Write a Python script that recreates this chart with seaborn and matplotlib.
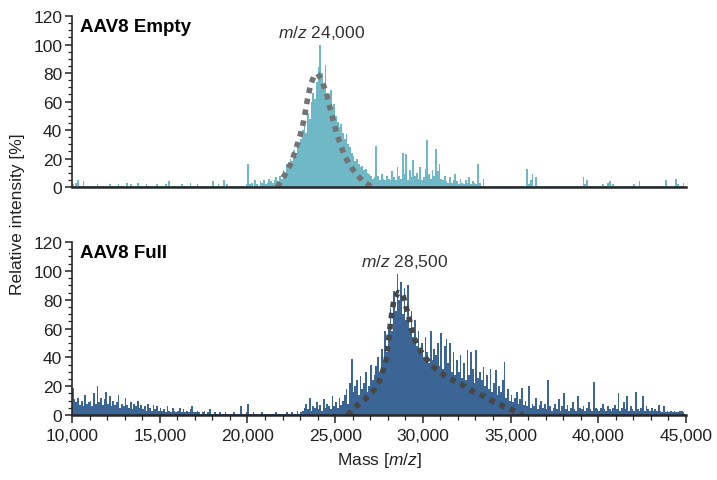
import numpy as np
import pandas as pd
import seaborn as sns
import matplotlib.pyplot as plt
from matplotlib.ticker import MultipleLocator, FuncFormatter

# spectra sampled every 100 Da, one row per 1000 Da, from 10,000 to 44,900
mass = np.arange(10000, 45000, 100)

empty_intensity = [
    2, 1, 3, 5, 1, 1, 4, 1, 1, 1,
    1, 1, 1, 1, 2, 1, 1, 1, 1, 1,
    1, 2, 1, 1, 1, 1, 2, 1, 1, 1,
    1, 3, 1, 2, 1, 1, 1, 3, 1, 1,
    1, 1, 2, 1, 1, 1, 1, 1, 2, 1,
    1, 1, 1, 2, 1, 4, 1, 1, 1, 1,
    1, 1, 2, 1, 1, 1, 1, 3, 1, 1,
    1, 2, 1, 1, 1, 1, 1, 1, 1, 1,
    4, 1, 1, 2, 1, 1, 5, 1, 2, 1,
    1, 1, 1, 1, 1, 1, 1, 1, 1, 2,
    16, 2, 3, 1, 5, 2, 1, 4, 3, 5,
    2, 3, 6, 4, 3, 5, 7, 4, 8, 6,
    12, 9, 16, 14, 20, 18, 26, 22, 30, 28,
    34, 40, 46, 38, 52, 48, 60, 66, 62, 74,
    84, 100, 80, 70, 86, 66, 62, 68, 54, 58,
    50, 46, 42, 44, 38, 34, 37, 30, 28, 24,
    22, 18, 20, 16, 14, 15, 12, 13, 10, 9,
    8, 6, 7, 29, 8, 5, 9, 6, 5, 8,
    6, 5, 11, 7, 5, 14, 8, 6, 24, 9,
    23, 5, 12, 7, 19, 8, 10, 6, 14, 5,
    7, 13, 33, 9, 6, 12, 8, 27, 11, 16,
    6, 5, 8, 4, 3, 7, 3, 5, 9, 4,
    2, 6, 3, 2, 5, 3, 7, 2, 4, 3,
    2, 16, 3, 1, 6, 1, 1, 1, 1, 1,
    1, 1, 1, 1, 1, 1, 1, 1, 1, 1,
    1, 1, 1, 1, 1, 1, 1, 1, 1, 13,
    2, 5, 9, 1, 7, 1, 1, 1, 1, 1,
    1, 1, 1, 1, 1, 1, 1, 1, 1, 1,
    1, 1, 1, 1, 1, 1, 1, 1, 1, 1,
    1, 7, 2, 5, 1, 1, 1, 1, 1, 1,
    1, 1, 2, 1, 1, 3, 4, 1, 2, 1,
    1, 1, 1, 1, 1, 1, 1, 1, 1, 1,
    2, 1, 1, 4, 1, 1, 1, 1, 1, 1,
    1, 1, 1, 1, 1, 1, 1, 1, 5, 1,
    1, 1, 1, 1, 6, 2, 1, 1, 3, 1,
]

full_intensity = [
    19, 11, 9, 12, 7, 10, 6, 14, 8, 9,
    10, 6, 15, 8, 20, 9, 12, 7, 11, 16,
    8, 13, 6, 10, 7, 9, 14, 5, 8, 6,
    12, 7, 5, 9, 4, 8, 6, 10, 5, 7,
    4, 6, 3, 8, 5, 3, 7, 4, 6, 3,
    5, 3, 4, 2, 6, 3, 2, 5, 3, 2,
    3, 5, 2, 4, 2, 3, 2, 4, 6, 2,
    2, 3, 2, 1, 2, 3, 1, 2, 4, 1,
    1, 2, 1, 1, 2, 1, 1, 2, 1, 1,
    1, 1, 2, 1, 1, 1, 6, 1, 1, 2,
    8, 1, 1, 2, 1, 1, 1, 1, 2, 1,
    1, 1, 1, 1, 1, 1, 2, 1, 1, 1,
    1, 1, 2, 1, 1, 2, 1, 1, 3, 1,
    2, 3, 5, 8, 4, 12, 3, 6, 5, 9,
    4, 7, 3, 11, 5, 8, 6, 4, 13, 6,
    9, 5, 12, 7, 10, 14, 18, 8, 22, 39,
    16, 20, 24, 14, 27, 18, 22, 30, 16, 20,
    35, 24, 28, 34, 40, 30, 46, 38, 58, 44,
    62, 74, 58, 86, 72, 98, 80, 92, 70, 88,
    66, 90, 60, 72, 54, 66, 48, 58, 46, 50,
    40, 54, 44, 36, 58, 38, 46, 42, 50, 34,
    57, 32, 48, 53, 36, 50, 30, 44, 28, 38,
    30, 42, 26, 36, 24, 45, 28, 44, 32, 22,
    45, 26, 30, 24, 33, 20, 28, 18, 32, 16,
    22, 31, 14, 20, 16, 24, 37, 12, 18, 10,
    14, 9, 12, 16, 8, 11, 19, 7, 10, 6,
    20, 5, 8, 6, 12, 4, 7, 10, 5, 8,
    4, 24, 6, 3, 5, 8, 4, 11, 3, 6,
    15, 4, 7, 3, 5, 9, 4, 3, 13, 5,
    4, 6, 3, 5, 9, 4, 3, 23, 5, 4,
    3, 5, 8, 4, 3, 6, 4, 3, 5, 7,
    4, 15, 3, 5, 9, 4, 13, 3, 6, 4,
    3, 16, 4, 3, 5, 13, 3, 6, 4, 3,
    5, 3, 4, 3, 7, 3, 2, 6, 2, 3,
    2, 3, 2, 3, 2, 2, 3, 3, 2, 1,
]

# dotted fit envelopes
empty_fit_mass = [21700, 21900, 22200, 22500, 22800, 23000, 23200, 23400, 23600,
                  23800, 24000, 24200, 24500, 24800, 25100, 25500, 25800, 26200,
                  26600, 27100]
empty_fit_y = [0, 4, 10, 17, 28, 36, 46, 60, 72, 78, 79.5, 76, 66, 51, 37, 23,
               16, 9, 4, 0]

full_fit_mass = [25700, 26200, 26700, 27200, 27500, 27700, 27900, 28000, 28100,
                 28200, 28350, 28600, 28850, 29000, 29200, 29450, 29700, 30000,
                 30400, 30800, 31300, 31900, 32400, 32900, 33500, 34000, 34600,
                 35100, 35700]
full_fit_y = [0, 6, 11, 17, 23, 30, 38, 47, 58, 68, 80, 85, 84, 77, 68, 55, 48,
              42, 36, 31, 27, 23, 20, 16, 13, 9.5, 6, 3.5, 0]

panels = [
    ("AAV8 Empty", empty_intensity, empty_fit_mass, empty_fit_y,
     "#6fb8c6", "#737373", 24250, 109, "24,000"),
    ("AAV8 Full", full_intensity, full_fit_mass, full_fit_y,
     "#3b6594", "#464646", 28980, 107, "28,500"),
]

sns.set_style("ticks")
plt.rcParams["font.family"] = ["Liberation Sans", "DejaVu Sans"]
plt.rcParams["mathtext.fontset"] = "custom"
plt.rcParams["mathtext.rm"] = "Liberation Sans"
plt.rcParams["mathtext.it"] = "Liberation Sans:italic"

fig = plt.figure(figsize=(7.17, 4.81), dpi=100)
ax_top = fig.add_axes([0.1004, 0.609, 0.8564, 0.3555])
ax_bot = fig.add_axes([0.1004, 0.135, 0.8564, 0.3597])

for ax, (name, inten, fx, fy, col, fcol, lx, ly, lbl) in zip(
        [ax_top, ax_bot], panels):
    df = pd.DataFrame({"mass": mass + 50, "intensity": inten})
    sns.histplot(data=df, x="mass", weights="intensity", binwidth=100,
                 binrange=(10000, 45000), color=col, alpha=1, linewidth=0,
                 ax=ax)
    fit = pd.DataFrame({"mass": fx, "y": fy})
    sns.lineplot(data=fit, x="mass", y="y", ax=ax, color=fcol, lw=4,
                 linestyle=(0, (1.0, 1.0)), dash_capstyle="butt")

    ax.set_xlim(10000, 45000)
    ax.set_ylim(0, 120)
    ax.yaxis.set_major_locator(MultipleLocator(20))
    ax.yaxis.set_minor_locator(MultipleLocator(5))
    ax.set_xlabel("")
    ax.set_ylabel("")
    sns.despine(ax=ax)
    ax.spines["left"].set_linewidth(1.2)
    ax.spines["bottom"].set_linewidth(1.8)
    ax.tick_params(axis="y", which="major", length=5, width=1.1,
                   labelsize=12.5, pad=2, colors="#222222")
    ax.tick_params(axis="y", which="minor", length=3, width=0.9)

    ax.text(0.013, 0.99, name, transform=ax.transAxes, fontsize=13.5,
            fontweight="bold", ha="left", va="top", color="black")
    ax.text(lx, ly, r"$\it{m/z}$ " + lbl, fontsize=12.5, ha="center",
            va="center", color="#333333")

ax_top.tick_params(axis="x", which="both", bottom=False, labelbottom=False)
ax_bot.xaxis.set_major_locator(MultipleLocator(5000))
ax_bot.xaxis.set_minor_locator(MultipleLocator(1000))
ax_bot.xaxis.set_major_formatter(FuncFormatter(lambda v, p: f"{int(v):,}"))
ax_bot.tick_params(axis="x", which="major", length=6, width=1.1,
                   labelsize=12.5, pad=3, colors="#222222")
ax_bot.tick_params(axis="x", which="minor", length=3.5, width=0.9)
ax_bot.set_xlabel(r"Mass [$\it{m/z}$]", fontsize=12.5, color="#222222",
                  labelpad=5)

fig.text(0.025, 0.555, "Relative intensity [%]", rotation=90, fontsize=12.5,
         ha="center", va="center", color="#222222")

fig.savefig("out.png", dpi=100)
